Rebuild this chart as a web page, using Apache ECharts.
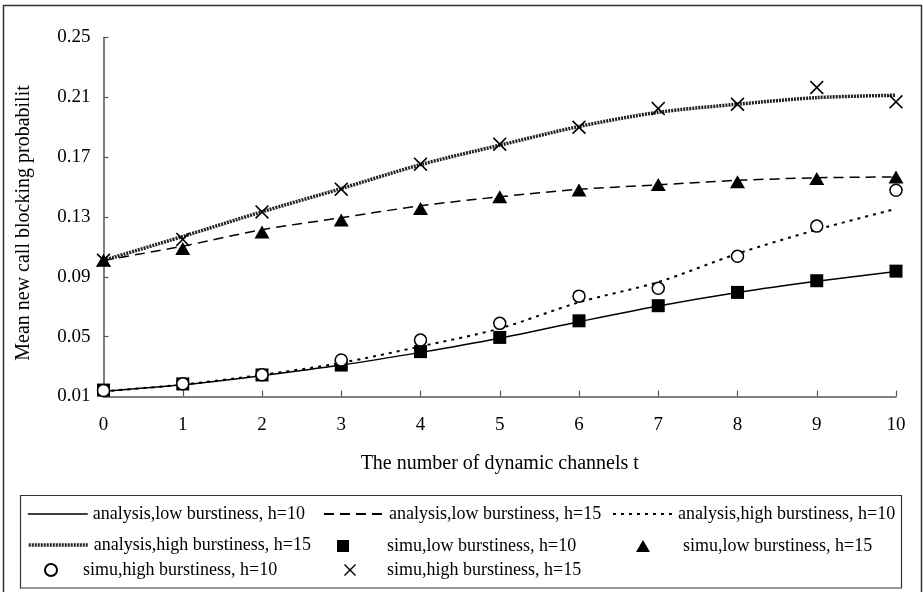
<!DOCTYPE html>
<html>
<head>
<meta charset="utf-8">
<script src="https://cdn.jsdelivr.net/npm/echarts@6/dist/echarts.min.js"></script>
<style>html,body{margin:0;padding:0;background:#fff}#c{width:923px;height:592px}</style>
</head>
<body>
<div id="c"></div>
<script>
// ---- data ----
var channels = [0,1,2,3,4,5,6,7,8,9,10];
var yTicks = [0.01,0.05,0.09,0.13,0.17,0.21,0.25];
var anaLowH10  = [0.0135,0.0178,0.0240,0.0310,0.0395,0.0490,0.0600,0.0705,0.0795,0.0870,0.0935];
var anaLowH15  = [0.1010,0.1105,0.1215,0.1295,0.1375,0.1435,0.1485,0.1515,0.1545,0.1562,0.1568];
var anaHighH10 = [0.0135,0.0180,0.0245,0.0325,0.0435,0.0555,0.0730,0.0865,0.1055,0.1215,0.1355];
var anaHighH15 = [0.1010,0.1170,0.1335,0.1490,0.1650,0.1780,0.1905,0.2000,0.2054,0.2098,0.2114];
var simLowH10  = [0.0143,0.0184,0.0244,0.0310,0.0400,0.0495,0.0606,0.0707,0.0796,0.0874,0.0938];
var simLowH15  = [0.1011,0.1090,0.1200,0.1280,0.1357,0.1435,0.1480,0.1518,0.1535,0.1558,0.1568];
var simHighH10 = [0.0140,0.0185,0.0245,0.0344,0.0477,0.0589,0.0771,0.0823,0.1037,0.1239,0.1479];
var simHighH15 = [0.1011,0.1150,0.1334,0.1486,0.1653,0.1787,0.1900,0.2025,0.2054,0.2166,0.2070];
var names = [
  'analysis,low burstiness, h=10',
  'analysis,low burstiness, h=15',
  'analysis,high burstiness, h=10',
  'analysis,high burstiness, h=15',
  'simu,low burstiness, h=10',
  'simu,low burstiness, h=15',
  'simu,high burstiness, h=10',
  'simu,high burstiness, h=15'
];

function pairs(arr){ return channels.map(function(x,i){ return [x, arr[i]]; }); }

var FONT = 'Liberation Serif';
var LFS = 18;
var crossPath = 'path://M0,1L1,0L6,5L11,0L12,1L7,6L12,11L11,12L6,7L1,12L0,11L5,6Z';

var chart = echarts.init(document.getElementById('c'), null, {renderer:'canvas'});

function lineLegend(name, left, top, lineStyle){
  return {data:[name], left:left, top:top, itemWidth:60, itemHeight:14, padding:0,
    textStyle:{fontFamily:FONT, fontSize:LFS, color:'#000'},
    itemStyle:{opacity:0},
    lineStyle:lineStyle, selectedMode:false};
}
function symLegend(name, left, top, w, h, pad){
  return {data:[name], left:left, top:top, itemWidth:w, itemHeight:h, padding:0,
    textStyle:{fontFamily:FONT, fontSize:LFS, color:'#000', padding:[0,0,0,pad]},
    selectedMode:false};
}

var option = {
  animation:false,
  backgroundColor:'#fff',
  grid:{left:103.5, right:27, top:37.5, height:359},
  xAxis:{
    type:'value', min:0, max:10, interval:1,
    name:'The number of dynamic channels t', nameLocation:'middle', nameGap:57,
    nameTextStyle:{fontFamily:FONT, fontSize:20, color:'#000'},
    axisLine:{lineStyle:{color:'#555', width:1.5}},
    axisTick:{inside:true, length:6, lineStyle:{color:'#555', width:1.2}},
    axisLabel:{fontFamily:FONT, fontSize:19, color:'#000', margin:19},
    splitLine:{show:false}
  },
  yAxis:{
    type:'value', min:yTicks[0], max:yTicks[yTicks.length-1], interval:0.04,
    name:'Mean new call blocking probabilit', nameLocation:'middle', nameGap:70,
    nameTextStyle:{fontFamily:FONT, fontSize:20, color:'#000', padding:[0,12,0,0]},
    axisLine:{show:true, lineStyle:{color:'#555', width:1.5}},
    axisTick:{show:true, inside:true, length:5, lineStyle:{color:'#555', width:1.2}},
    axisLabel:{fontFamily:FONT, fontSize:19, color:'#000', margin:13,
      formatter:function(v){ return v.toFixed(2); }},
    splitLine:{show:false}
  },
  legend:[
    lineLegend(names[0], 27, 505, {width:1.5, color:'#000', type:'solid'}),
    lineLegend(names[1], 323, 505, {width:2, color:'#000', type:[10,6]}),
    lineLegend(names[2], 612, 505, {width:2, color:'#000', type:[3,5]}),
    lineLegend(names[3], 27, 536, {width:3.5, color:'#222', type:[2,1]}),
    symLegend(names[4], 337, 537, 12, 12, 33),
    symLegend(names[5], 636, 537, 14, 12, 28),
    symLegend(names[6], 44, 561, 12, 12, 21),
    symLegend(names[7], 344, 561, 12, 12, 26)
  ],
  graphic:[
    {type:'rect', shape:{x:3.5, y:5.5, width:918, height:600}, style:{fill:'none', stroke:'#333', lineWidth:1.5}, silent:true, z:-1},
    {type:'rect', shape:{x:20.5, y:495.5, width:881, height:92.5}, style:{fill:'none', stroke:'#333', lineWidth:1.2}, silent:true, z:-1}
  ],
  series:[
    {name:names[0], type:'line', data:pairs(anaLowH10), symbol:'none', smooth:0.3, color:'#000',
      lineStyle:{color:'#000', width:1.5, type:'solid'}, z:3},
    {name:names[1], type:'line', data:pairs(anaLowH15), symbol:'none', smooth:0.3, color:'#000',
      lineStyle:{color:'#000', width:1.5, type:[10,6]}, z:3},
    {name:names[2], type:'line', data:pairs(anaHighH10), symbol:'none', smooth:0.3, color:'#000',
      lineStyle:{color:'#000', width:2, type:[3,5]}, z:3},
    {name:names[3], type:'line', data:pairs(anaHighH15), symbol:'none', smooth:0.3, color:'#222',
      lineStyle:{color:'#222', width:3.5, type:[2,1]}, z:3},
    {name:names[4], type:'scatter', data:pairs(simLowH10), symbol:'rect', symbolSize:13,
      itemStyle:{color:'#000', opacity:1}, z:4},
    {name:names[5], type:'scatter', data:pairs(simLowH15), symbol:'triangle', symbolSize:[15,13],
      itemStyle:{color:'#000', opacity:1}, z:4},
    {name:names[6], type:'scatter', data:pairs(simHighH10), symbol:'circle', symbolSize:12,
      itemStyle:{color:'#fff', borderColor:'#000', borderWidth:1.5, opacity:1}, z:4},
    {name:names[7], type:'scatter', data:pairs(simHighH15), symbol:crossPath, symbolSize:14,
      itemStyle:{color:'#000', opacity:1}, z:4}
  ]
};
chart.setOption(option);
</script>
</body>
</html>
